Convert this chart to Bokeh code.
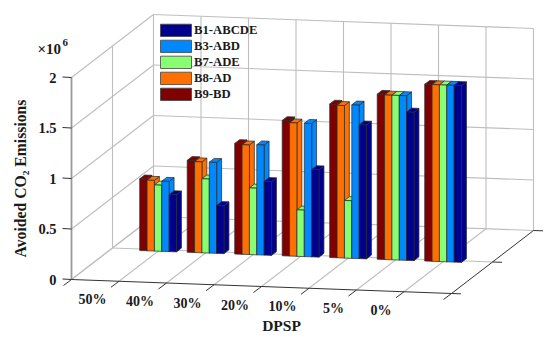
from bokeh.plotting import figure
from bokeh.embed import file_html
from bokeh.resources import INLINE
from bokeh.models import Range1d
from bokeh.core.properties import value

categories = ["50%", "40%", "30%", "20%", "10%", "5%", "0%"]
z_ticks = [0, 0.5, 1, 1.5, 2]
z_tick_labels = ["0", "0.5", "1", "1.5", "2"]
series_names = ["B1-ABCDE", "B3-ABD", "B7-ADE", "B8-AD", "B9-BD"]
series_colors = ["#00008F", "#0088FF", "#88FF70", "#FF7000", "#800000"]
b9 = [0.71, 0.91, 1.095, 1.34, 1.52, 1.635, 1.75]
b8 = [0.70, 0.90, 1.085, 1.32, 1.51, 1.63, 1.75]
b7 = [0.655, 0.733, 0.66, 0.46, 0.57, 1.63, 1.75]
b3 = [0.695, 0.90, 1.09, 1.32, 1.52, 1.63, 1.75]
b1 = [0.565, 0.475, 0.73, 0.865, 1.325, 1.47, 1.75]
bar_order = [(b9, "#800000"), (b8, "#FF7000"), (b7, "#88FF70"), (b3, "#0088FF"), (b1, "#00008F")]

# Oblique 3D projection of (category, depth, z) to picture coordinates
OX, OY = 71.0, 279.0
XU = (47.5, 1.75)
YU = (82.0, -63.0)
ZU = 101.0

def proj(x, y, z):
    return (OX + x * XU[0] + y * YU[0], OY + x * XU[1] + y * YU[1] - z * ZU)

p = figure(width=550, height=337, output_backend="svg", toolbar_location=None,
           x_range=Range1d(0, 550), y_range=Range1d(337, 0), min_border=0)
p.axis.visible = False
p.grid.visible = False
p.outline_line_color = None

def lines(segs, color, width):
    xs, ys = [], []
    for a, b in segs:
        pa, pb = proj(*a), proj(*b)
        xs.append([pa[0], pb[0]])
        ys.append([pa[1], pb[1]])
    p.multi_line(xs, ys, line_color=color, line_width=width)

# grid
G = []
for x in range(0, 9):
    G.append(((x, 1, 0), (x, 1, 2)))
for x in range(0, 8):
    G.append(((x, 0, 0), (x, 1, 0)))
for z in z_ticks:
    G.append(((0, 1, z), (8, 1, z)))
    G.append(((0, 0, z), (0, 1, z)))
G.append(((0, 0.5, 0), (0, 0.5, 2)))
G.append(((0, 0.5, 0), (8, 0.5, 0)))
lines(G, "#BEBEBE", 1.1)

# axes
p.line(*zip(*[proj(0, 0, 0), proj(0, 0, 2)]), line_color="#999999", line_width=1.8)
lines([((0, 0, 0), (8, 0, 0)), ((8, 0, 0), (8, 1, 0))], "#333333", 1)
tx, ty = [], []
for x in range(0, 9):
    a = proj(x, 0, 0)
    tx.append([a[0], a[0] - 8])
    ty.append([a[1], a[1] + 6])
for y in (0, 0.5, 1):
    a = proj(8, y, 0)
    tx.append([a[0], a[0] + 9.5])
    ty.append([a[1], a[1] + 0.3])
for z in z_ticks:
    a = proj(0, 0, z)
    tx.append([a[0], a[0] - 9])
    ty.append([a[1], a[1] - 0.5])
p.multi_line(tx, ty, line_color="#333333", line_width=1)

# bars
GROUP = 0.775
WIDTH = GROUP / 5
Y0, Y1 = 0.477, 0.537
fx, fy, fc = [], [], []
for i in range(len(categories)):
    cx = i + 1
    for k, (vals, col) in enumerate(bar_order):
        x0 = cx - GROUP / 2 + k * WIDTH
        x1 = x0 + WIDTH
        h = vals[i]
        faces = [
            [(x1, Y0, 0), (x1, Y1, 0), (x1, Y1, h), (x1, Y0, h)],
            [(x0, Y0, h), (x1, Y0, h), (x1, Y1, h), (x0, Y1, h)],
            [(x0, Y0, 0), (x1, Y0, 0), (x1, Y0, h), (x0, Y0, h)],
        ]
        for f in faces:
            pts = [proj(*q) for q in f]
            fx.append([q[0] for q in pts])
            fy.append([q[1] for q in pts])
            fc.append(col)
p.patches(fx, fy, fill_color=fc, line_color="#2A2A2A", line_width=0.8, line_alpha=0.9)

FONT = value("Liberation Serif")
def label(x, y, s, size, align="center", angle=0.0, color="#1A1A1A"):
    p.text([x], [y], text=[s], text_font=FONT, text_font_style="bold",
           text_font_size=size, text_align=align, text_baseline="middle",
           angle=angle, text_color=color)

# z tick labels
for z, s in zip(z_ticks, z_tick_labels):
    a = proj(0, 0, z)
    label(a[0] - 15, a[1], s, "14.5px", "right")

# category labels
for i, s in enumerate(categories):
    a = proj(i + 1, 0, 0)
    label(a[0] - 12.5, a[1] + 18.5, s, "14px", "right")

label(281, 325, "DPSP", "15.5px")
label(20, 178, "Avoided CO₂ Emissions", "15.7px", angle=1.5708)
label(37, 48, "×10", "15px", "left")
label(62, 42, "6", "11px", "left")

# legend
lx0, lx1 = 160, 191
ly0 = 23.7
for j, (name, col) in enumerate(zip(series_names, series_colors)):
    top = ly0 + j * 16
    p.quad(left=[lx0], right=[lx1], top=[top], bottom=[top + 12.3], fill_color=col,
           line_color="#444444", line_width=0.8)
    label(193.5, top + 6, name, "12.7px", "left")

open("out.html", "w").write(file_html(p, INLINE))
